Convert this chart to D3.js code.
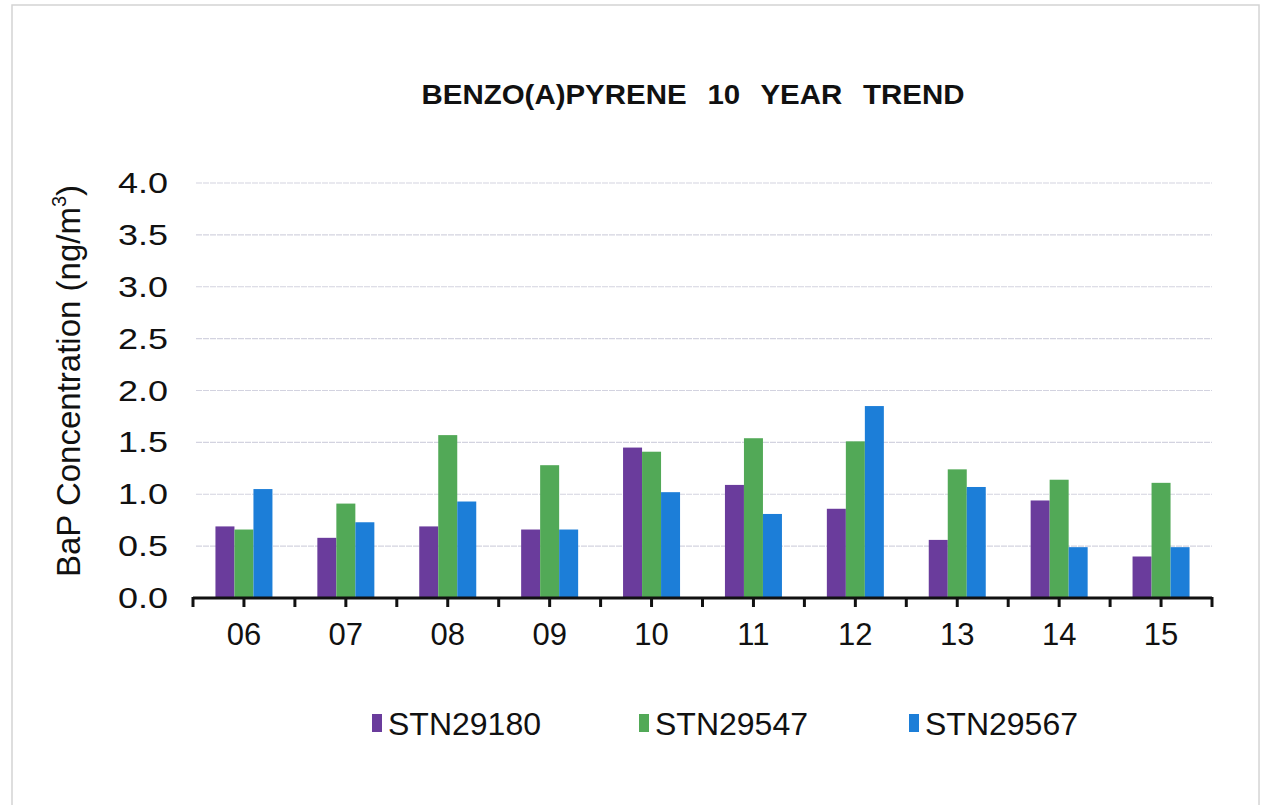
<!DOCTYPE html>
<html>
<head>
<meta charset="utf-8">
<script src="https://cdn.jsdelivr.net/npm/d3@7"></script>
<style>
  body { margin: 0; background: #fff; }
  svg { display: block; font-family: "Liberation Sans", Arial, sans-serif; }
</style>
</head>
<body>
<svg width="1265" height="805"></svg>
<script>
var years = ["06", "07", "08", "09", "10", "11", "12", "13", "14", "15"];
var stations = ["STN29180", "STN29547", "STN29567"];
var stn29180 = [0.69, 0.58, 0.69, 0.66, 1.45, 1.09, 0.86, 0.56, 0.94, 0.40];
var stn29547 = [0.66, 0.91, 1.57, 1.28, 1.41, 1.54, 1.51, 1.24, 1.14, 1.11];
var stn29567 = [1.05, 0.73, 0.93, 0.66, 1.02, 0.81, 1.85, 1.07, 0.49, 0.49];
var yTicks = [0, 0.5, 1, 1.5, 2, 2.5, 3, 3.5, 4];
var colors = ["#6a3c9c", "#52a957", "#1c7ed8"];

var series = [stn29180, stn29547, stn29567];

var svg = d3.select("svg");

// faint frame around the chart
svg.append("rect")
    .attr("x", 12).attr("y", 5)
    .attr("width", 1247).attr("height", 820)
    .attr("fill", "none").attr("stroke", "#d4d4d4").attr("stroke-width", 1.5);

var x = d3.scaleBand().domain(years).range([193, 1212]);
var x1 = d3.scaleBand().domain(stations).range([0, 57]);
var y = d3.scaleLinear().domain([0, 4]).range([598, 183]);

// gridlines
svg.append("g").selectAll("line")
    .data(yTicks.filter(function(d) { return d > 0; }))
    .enter().append("line")
    .attr("x1", 196).attr("x2", 1212)
    .attr("y1", function(d) { return y(d); })
    .attr("y2", function(d) { return y(d); })
    .attr("stroke", "#d3d3e0").attr("stroke-width", 1.2)
    .attr("stroke-dasharray", "6,1");

// bars
var groups = svg.append("g").selectAll("g")
    .data(years)
    .enter().append("g")
    .attr("transform", function(d) { return "translate(" + (x(d) + (x.bandwidth() - 57) / 2) + ",0)"; });

groups.selectAll("rect")
    .data(function(d, i) { return stations.map(function(s, j) { return { s: s, v: series[j][i], j: j }; }); })
    .enter().append("rect")
    .attr("x", function(d) { return x1(d.s); })
    .attr("width", x1.bandwidth())
    .attr("y", function(d) { return y(d.v); })
    .attr("height", function(d) { return y(0) - y(d.v); })
    .attr("fill", function(d) { return colors[d.j]; });

// x axis line and ticks
var axisG = svg.append("g");
axisG.append("line")
    .attr("x1", 193).attr("x2", 1212)
    .attr("y1", y(0)).attr("y2", y(0))
    .attr("stroke", "#111").attr("stroke-width", 3);

var tickPos = [];
years.forEach(function(d) { tickPos.push(x(d)); tickPos.push(x(d) + x.bandwidth() / 2); });
tickPos.push(1212);
axisG.selectAll("line.tick")
    .data(tickPos)
    .enter().append("line")
    .attr("class", "tick")
    .attr("x1", function(d) { return d; }).attr("x2", function(d) { return d; })
    .attr("y1", y(0) - 1).attr("y2", y(0) + 9)
    .attr("stroke", "#111").attr("stroke-width", 3);

axisG.selectAll("text")
    .data(years)
    .enter().append("text")
    .attr("x", function(d) { return x(d) + x.bandwidth() / 2; })
    .attr("y", 645)
    .attr("text-anchor", "middle")
    .attr("font-size", 31)
    .attr("fill", "#111")
    .text(function(d) { return d; });

// y tick labels
svg.append("g").selectAll("text")
    .data(yTicks)
    .enter().append("text")
    .attr("x", 168)
    .attr("y", function(d) { return y(d) + 10; })
    .attr("text-anchor", "end")
    .attr("font-size", 29)
    .attr("textLength", 50)
    .attr("lengthAdjust", "spacingAndGlyphs")
    .attr("fill", "#111")
    .text(function(d) { return d3.format(".1f")(d); });

// y axis title
var yt = svg.append("text")
    .attr("transform", "translate(80,381) rotate(-90)")
    .attr("text-anchor", "middle")
    .attr("font-size", 33)
    .attr("fill", "#111");
yt.append("tspan").text("BaP Concentration (ng/m");
yt.append("tspan").attr("font-size", 20).attr("dy", -14).text("3");
yt.append("tspan").attr("dy", 14).text(")");

// title
svg.append("text")
    .attr("x", 693).attr("y", 104)
    .attr("text-anchor", "middle")
    .attr("font-size", 28)
    .attr("font-weight", "bold")
    .attr("fill", "#111")
    .attr("word-spacing", 12)
    .attr("textLength", 543)
    .attr("lengthAdjust", "spacingAndGlyphs")
    .text("BENZO(A)PYRENE 10 YEAR TREND");

// legend
var legendX = [372, 639, 909];
var leg = svg.append("g").selectAll("g")
    .data(stations)
    .enter().append("g")
    .attr("transform", function(d, i) { return "translate(" + legendX[i] + ",714)"; });
leg.append("rect")
    .attr("width", 10).attr("height", 18)
    .attr("fill", function(d, i) { return colors[i]; });
leg.append("text")
    .attr("x", 16).attr("y", 21)
    .attr("font-size", 32)
    .attr("fill", "#111")
    .text(function(d) { return d; });
</script>
</body>
</html>
